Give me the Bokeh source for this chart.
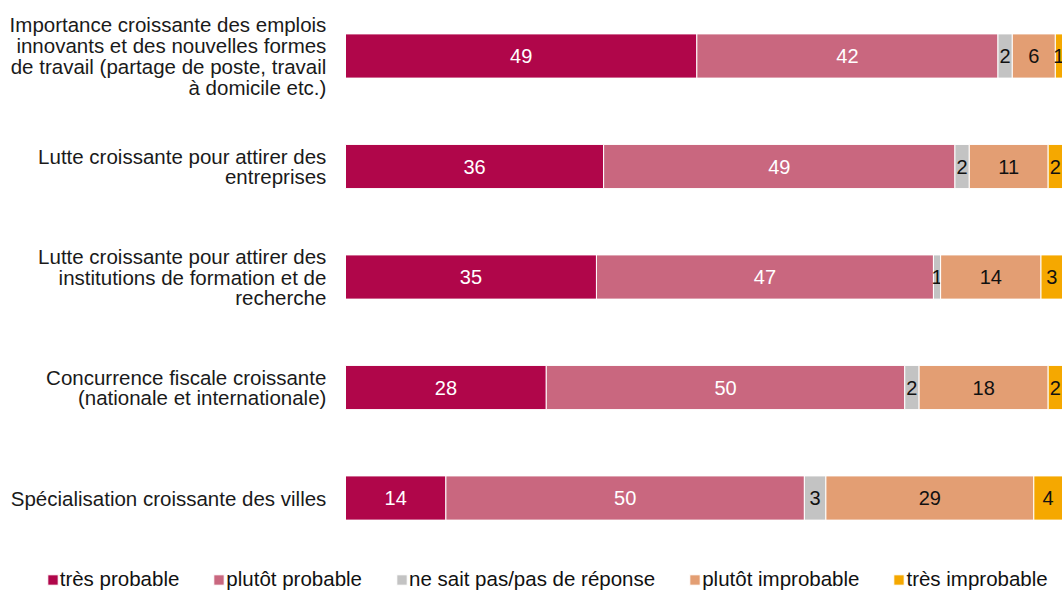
from bokeh.plotting import figure
from bokeh.models import ColumnDataSource, Range1d, Legend, LegendItem
from bokeh.core.properties import value
from bokeh.embed import file_html
from bokeh.resources import INLINE

categories = [
    "Importance croissante des emplois\ninnovants et des nouvelles formes\nde travail (partage de poste, travail\nà domicile etc.)",
    "Lutte croissante pour attirer des\nentreprises",
    "Lutte croissante pour attirer des\ninstitutions de formation et de\nrecherche",
    "Concurrence fiscale croissante\n(nationale et internationale)",
    "Spécialisation croissante des villes",
]
series_names = ["très probable", "plutôt probable", "ne sait pas/pas de réponse",
                "plutôt improbable", "très improbable"]
tres_probable = [49, 36, 35, 28, 14]
plutot_probable = [42, 49, 47, 50, 50]
ne_sait_pas = [2, 2, 1, 2, 3]
plutot_improbable = [6, 11, 14, 18, 29]
tres_improbable = [1, 2, 3, 2, 4]

series = [tres_probable, plutot_probable, ne_sait_pas, plutot_improbable, tres_improbable]
colors = ["#B0064A", "#C9677F", "#C3C3C3", "#E39E73", "#F5A800"]
label_colors = ["#FFFFFF", "#FFFFFF", "#111111", "#111111", "#111111"]

FONT = "Liberation Sans"
ypos = list(range(len(categories)))

p = figure(width=1062, height=591, output_backend="svg", toolbar_location=None,
           x_range=Range1d(-48.12, 100.0), y_range=Range1d(4.846, -0.5023),
           min_border=0, min_border_left=0, min_border_right=0,
           min_border_top=0, min_border_bottom=0)
p.axis.visible = False
p.xgrid.visible = False
p.ygrid.visible = False
p.outline_line_color = None
p.background_fill_color = "white"

left = [0] * len(categories)
items = []
for name, vals, col, lcol in zip(series_names, series, colors, label_colors):
    right = [l + v for l, v in zip(left, vals)]
    src = ColumnDataSource(dict(
        y=ypos, left=left, right=right,
        mid=[(l + r) / 2 for l, r in zip(left, right)],
        lab=[str(v) for v in vals]))
    r = p.hbar(y="y", left="left", right="right", height=0.4, source=src,
               fill_color=col, line_color="white", line_width=1)
    p.text(x="mid", y="y", text="lab", source=src, text_align="center",
           text_baseline="middle", text_font=value(FONT),
           text_font_size="20px", text_color=lcol)
    items.append(LegendItem(label=name, renderers=[r]))
    left = right

cat_src = ColumnDataSource(dict(x=[-2.67] * len(categories), y=ypos, t=categories))
p.text(x="x", y="y", text="t", source=cat_src, text_align="right",
       text_baseline="middle", text_font=value(FONT), text_font_size="20.5px",
       text_color="#1A1A1A", text_line_height=0.91)

legend = Legend(items=items, orientation="horizontal", location=(45.7, 0),
                padding=0, margin=0, spacing=33, label_standoff=1,
                glyph_width=13, glyph_height=13, label_height=20,
                label_text_font=FONT, label_text_font_size="20.5px",
                label_text_color="#111111",
                border_line_alpha=0, background_fill_alpha=0)
p.add_layout(legend)

open("out.html", "w").write(file_html(p, INLINE))
